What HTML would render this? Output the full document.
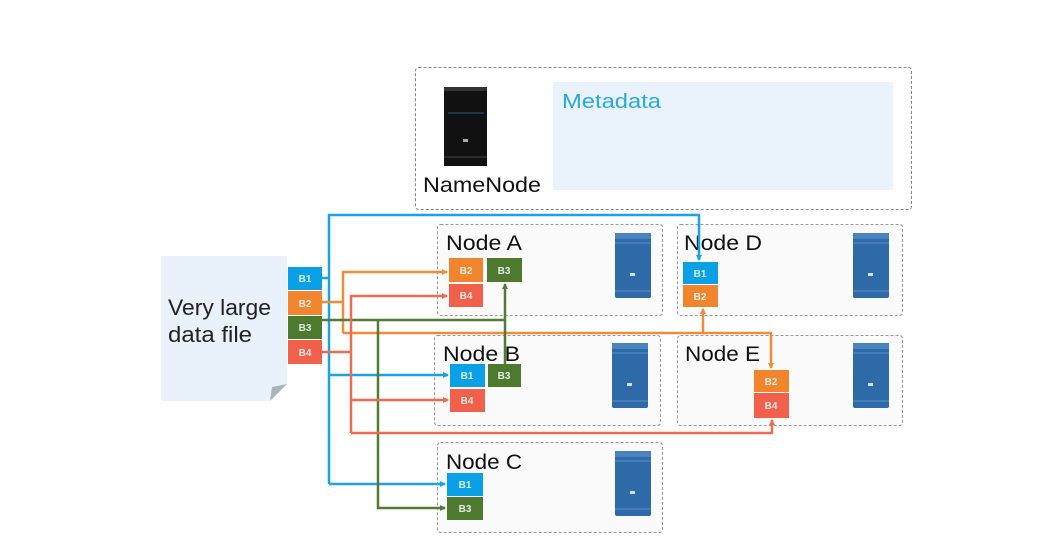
<!DOCTYPE html>
<html><head><meta charset="utf-8"><style>
html,body{margin:0;padding:0;background:#fff;}
svg{display:block;font-family:"Liberation Sans","DejaVu Sans",sans-serif;}
.bx{fill:#fafafa;stroke:#9a9a9a;stroke-width:1;stroke-dasharray:3,2;}
.lbl{font-size:21px;fill:#111;}
.bt{font-size:10px;font-weight:bold;fill:#fff;text-anchor:middle;opacity:.85}
</style></head><body>
<svg width="1048" height="553" viewBox="0 0 1048 553" xmlns="http://www.w3.org/2000/svg">
<defs>
<marker id="ab" markerWidth="6" markerHeight="6" refX="5" refY="3" orient="auto" markerUnits="userSpaceOnUse"><path d="M0,0 L6,3 L0,6z" fill="#1aa3e0"/></marker>
<marker id="ao" markerWidth="6" markerHeight="6" refX="5" refY="3" orient="auto" markerUnits="userSpaceOnUse"><path d="M0,0 L6,3 L0,6z" fill="#ef8c3a"/></marker>
<marker id="ag" markerWidth="6" markerHeight="6" refX="5" refY="3" orient="auto" markerUnits="userSpaceOnUse"><path d="M0,0 L6,3 L0,6z" fill="#557a35"/></marker>
<marker id="ar" markerWidth="6" markerHeight="6" refX="5" refY="3" orient="auto" markerUnits="userSpaceOnUse"><path d="M0,0 L6,3 L0,6z" fill="#ee6a52"/></marker>
<g id="srv"><rect x="0" y="0" width="36" height="65" rx="2" fill="#2f6aa8"/><rect x="0" y="0" width="36" height="6" fill="#4a84c0"/><line x1="0" y1="10" x2="36" y2="10" stroke="#5a90c8" stroke-width="1"/><line x1="0" y1="58" x2="36" y2="58" stroke="#5a90c8" stroke-width="1"/><rect x="15" y="40" width="5" height="3" fill="#cfe0f0"/></g>
</defs>
<rect x="415.5" y="67.5" width="496" height="142" rx="3" fill="#fff" stroke="#888" stroke-dasharray="3,2"/>
<rect x="444" y="87" width="43" height="79" fill="#111"/>
<rect x="444" y="87" width="43" height="4" fill="#333"/>
<line x1="448" y1="113" x2="484" y2="113" stroke="#2a5a8a" stroke-width="1"/>
<line x1="444" y1="157" x2="487" y2="157" stroke="#444" stroke-width="1"/>
<rect x="463" y="139" width="5" height="3" fill="#aaa"/>
<text x="423" y="192" font-size="21" fill="#111" textLength="118" lengthAdjust="spacingAndGlyphs">NameNode</text>
<rect x="553" y="82" width="340" height="108" fill="#eaf3fc"/>
<text x="562" y="108" font-size="20" fill="#29a8e0" textLength="99" lengthAdjust="spacingAndGlyphs">Metadata</text>
<rect class="bx" x="437.5" y="224.5" width="225" height="91" rx="3"/>
<rect class="bx" x="677.5" y="224.5" width="225" height="91" rx="3"/>
<rect class="bx" x="434.5" y="335.5" width="226" height="90" rx="3"/>
<rect class="bx" x="677.5" y="335.5" width="225" height="90" rx="3"/>
<rect class="bx" x="437.5" y="442.5" width="225" height="90" rx="3"/>
<text class="lbl" x="446" y="250" textLength="76" lengthAdjust="spacingAndGlyphs">Node A</text>
<text class="lbl" x="684" y="250" textLength="78" lengthAdjust="spacingAndGlyphs">Node D</text>
<text class="lbl" x="443" y="361" textLength="77" lengthAdjust="spacingAndGlyphs">Node B</text>
<text class="lbl" x="685" y="361" textLength="75" lengthAdjust="spacingAndGlyphs">Node E</text>
<text class="lbl" x="446" y="469" textLength="76" lengthAdjust="spacingAndGlyphs">Node C</text>
<use href="#srv" x="615" y="233"/><use href="#srv" x="853" y="233"/>
<use href="#srv" x="612" y="343"/><use href="#srv" x="853" y="343"/>
<use href="#srv" x="615" y="451"/>
<path d="M161,256 H287 V384 L270,401 H161 Z" fill="#e9f1fa"/>
<path d="M270,401 L272,387 L287,384 Z" fill="#aab4be"/>
<text x="168" y="315" font-size="22" fill="#222" textLength="103" lengthAdjust="spacingAndGlyphs">Very large</text>
<text x="168" y="342" font-size="22" fill="#222" textLength="84" lengthAdjust="spacingAndGlyphs">data file</text>
<g fill="none" stroke-width="2.5">
<path d="M322,278 H329 M329,484 V215 H699 V260" stroke="#1aa3e0" marker-end="url(#ab)"/>
<path d="M329,375 H448" stroke="#1aa3e0" marker-end="url(#ab)"/>
<path d="M329,484 H445" stroke="#1aa3e0" marker-end="url(#ab)"/>
<path d="M322,302 H343 M343,333 V272 H447" stroke="#ef8c3a" marker-end="url(#ao)"/>
<path d="M343,333 H771 V368" stroke="#ef8c3a" marker-end="url(#ao)"/>
<path d="M703,333 V309" stroke="#ef8c3a" marker-end="url(#ao)"/>
<path d="M322,320 H505 V284" stroke="#557a35" marker-end="url(#ag)"/>
<path d="M505,320 V364" stroke="#557a35"/>
<path d="M378,320 V508 H445" stroke="#557a35" marker-end="url(#ag)"/>
<path d="M322,352 H351 M351,433 V296 H447" stroke="#ee6a52" marker-end="url(#ar)"/>
<path d="M351,400 H448" stroke="#ee6a52" marker-end="url(#ar)"/>
<path d="M351,433 H772 V420" stroke="#ee6a52" marker-end="url(#ar)"/>
</g>
<rect x="288" y="267" width="34" height="23" fill="#0aa0e6"/><text class="bt" x="305" y="282">B1</text>
<rect x="288" y="291" width="34" height="24" fill="#f0852d"/><text class="bt" x="305" y="307">B2</text>
<rect x="288" y="316" width="34" height="23" fill="#4e7a30"/><text class="bt" x="305" y="331">B3</text>
<rect x="288" y="340" width="34" height="24" fill="#f0604a"/><text class="bt" x="305" y="356">B4</text>
<rect x="449" y="258" width="34" height="24" fill="#f0852d"/><text class="bt" x="466" y="274">B2</text>
<rect x="487" y="258" width="35" height="24" fill="#4e7a30"/><text class="bt" x="504" y="274">B3</text>
<rect x="449" y="284" width="34" height="23" fill="#f0604a"/><text class="bt" x="466" y="299">B4</text>
<rect x="450" y="364" width="35" height="23" fill="#0aa0e6"/><text class="bt" x="467" y="379">B1</text>
<rect x="488" y="364" width="33" height="23" fill="#4e7a30"/><text class="bt" x="504" y="379">B3</text>
<rect x="450" y="389" width="35" height="23" fill="#f0604a"/><text class="bt" x="467" y="404">B4</text>
<rect x="447" y="473" width="36" height="23" fill="#0aa0e6"/><text class="bt" x="465" y="488">B1</text>
<rect x="447" y="497" width="36" height="23" fill="#4e7a30"/><text class="bt" x="465" y="512">B3</text>
<rect x="683" y="262" width="35" height="22" fill="#0aa0e6"/><text class="bt" x="700" y="277">B1</text>
<rect x="683" y="285" width="35" height="22" fill="#f0852d"/><text class="bt" x="700" y="300">B2</text>
<rect x="754" y="370" width="35" height="22" fill="#f0852d"/><text class="bt" x="771" y="385">B2</text>
<rect x="754" y="393" width="35" height="25" fill="#f0604a"/><text class="bt" x="771" y="409">B4</text>
</svg>
</body></html>
